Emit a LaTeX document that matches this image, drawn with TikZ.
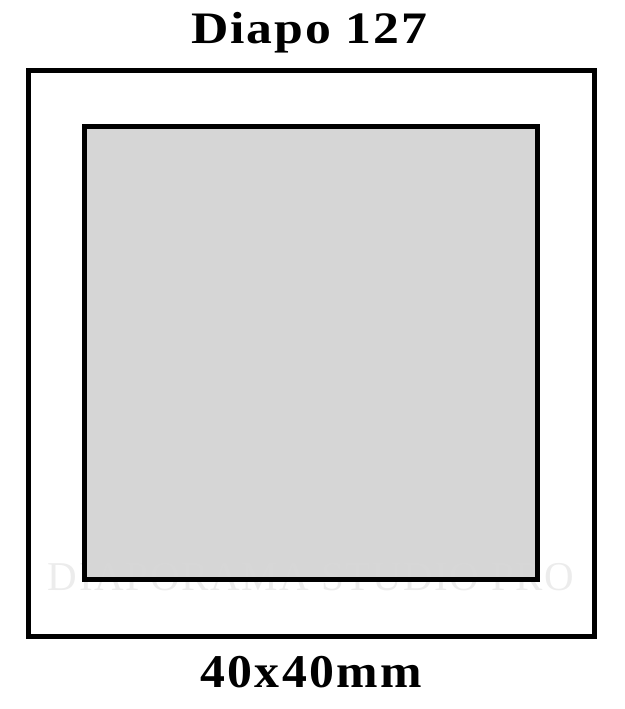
\documentclass[tikz,border=0pt]{standalone}
\usepackage{fontspec}
\setmainfont{Liberation Serif}
\newfontfamily\titleFont{Liberation Serif}[FakeStretch=1.15,LetterSpace=4]
\newfontfamily\sizeFont{Liberation Serif}[FakeStretch=1.06,LetterSpace=5]
\newfontfamily\markFont{Liberation Serif}[LetterSpace=4]
\usepackage{xcolor}
\definecolor{lineDark}{HTML}{000000}
\definecolor{windowGray}{HTML}{D6D6D6}
\definecolor{markGray}{HTML}{D9D9D9}
\usepackage{tikz}
\usetikzlibrary{positioning}
\tikzset{
  frameBox/.style={
    rectangle,
    draw=lineDark,
    line width=5pt,
    inner sep=0pt,
    outer sep=0pt
 },
  titleText/.style={
    font=\titleFont\bfseries\fontsize{45}{50}\selectfont,
    inner sep=0pt
 },
  sizeText/.style={
    font=\sizeFont\bfseries\fontsize{47}{52}\selectfont,
    inner sep=0pt
 },
  markText/.style={
    font=\markFont\fontsize{41}{46}\selectfont,
    text=markGray,
    text opacity=0.5,
    inner sep=0pt
 }
}

\begin{document}
\begin{tikzpicture}[x=1pt,y=-1pt]
            \useasboundingbox (0,0) rectangle (624,709);
            % outer mount
            \node[frameBox, minimum size=565.5pt] (frame) at (311.25,353.25) {};
            % picture window
            \node[frameBox, fill=windowGray, minimum size=453pt] (window) at (frame.center) {};
            % watermark
            \node[markText, above=46pt of frame.south, anchor=base] (mark) {DIAPORAMA STUDIO PRO};
            \node[frameBox, minimum size=453pt] (windowLine) at (frame.center) {};

            % labels
            \node[titleText, above=26.5pt of frame.north, anchor=base, xshift=-2pt] (title) {Diapo 127};
            \node[sizeText, below=51pt of frame.south, anchor=base] (size) {40x40mm};
        \end{tikzpicture}
\end{document}
